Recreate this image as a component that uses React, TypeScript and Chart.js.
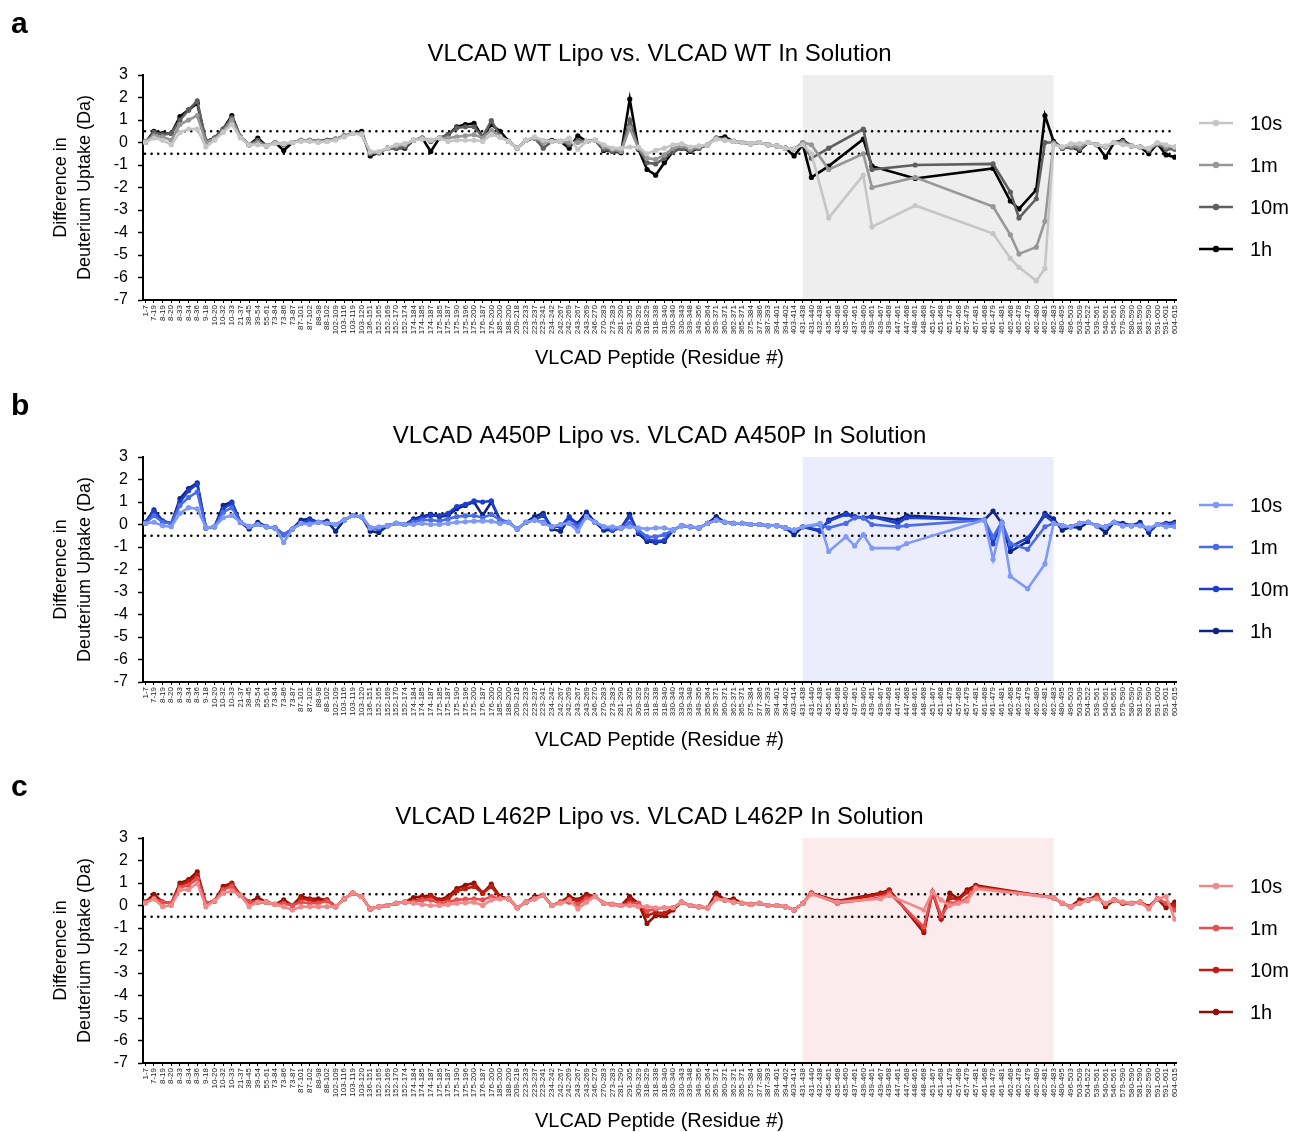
import React, { useEffect, useRef } from 'react';
import { Chart, registerables } from 'chart.js';

Chart.register(...registerables);

const N = null;
const FONT = 'Arial, "Liberation Sans", Helvetica, sans-serif';

const peptides = [
  '1-7', '7-19', '8-19', '8-20', '8-33', '8-34', '8-36', '9-18', '10-20', '10-32',
  '10-33', '21-37', '38-45', '39-54', '55-61', '73-84', '73-86', '73-87', '87-101', '87-102',
  '88-98', '88-102', '102-109', '103-116', '103-119', '103-120', '136-151', '152-165', '152-169', '152-170',
  '152-174', '174-184', '174-185', '174-187', '175-185', '175-187', '175-190', '175-196', '175-200', '176-187',
  '176-200', '185-200', '188-200', '209-218', '223-233', '223-237', '223-241', '234-242', '242-267', '242-269',
  '243-267', '243-269', '246-270', '270-283', '273-283', '281-290', '291-305', '309-329', '318-329', '318-338',
  '318-340', '330-340', '330-343', '339-348', '349-356', '356-364', '359-371', '360-371', '362-371', '365-371',
  '375-384', '377-386', '387-393', '394-401', '394-402', '403-414', '431-438', '431-440', '432-438', '435-461',
  '435-468', '435-460', '437-461', '439-460', '439-461', '439-467', '439-468', '447-461', '447-468', '448-461',
  '448-468', '451-467', '451-468', '451-479', '457-468', '457-479', '457-481', '461-468', '461-479', '461-481',
  '462-468', '462-478', '462-479', '462-480', '462-481', '462-483', '480-495', '496-503', '503-509', '504-522',
  '539-561', '540-561', '546-561', '579-590', '580-590', '581-590', '582-590', '591-600', '591-601', '604-615',
];

const timePoints = ['10s', '1m', '10m', '1h'];
const yTicks = [3, 2, 1, 0, -1, -2, -3, -4, -5, -6, -7];

// ---------- Panel a: VLCAD WT ----------
const wt10s = [
  0.0, 0.2, 0.1, -0.1, 0.45, 0.6, 0.6, -0.2, 0.1, 0.45,
  0.8, 0.2, -0.1, -0.1, -0.15, -0.05, -0.05, 0.0, 0.05, 0.05,
  0.0, 0.05, 0.1, 0.25, 0.4, 0.35, -0.4, -0.4, -0.25, -0.1,
  -0.05, 0.1, 0.15, 0.1, 0.2, 0.05, 0.1, 0.1, 0.1, 0.05, 0.35,
  0.25, 0.05, -0.25, 0.1, 0.25, 0.1, 0.05, 0.05, 0.2, -0.3,
  0.05, 0.1, -0.1, -0.25, -0.25, -0.2, -0.2, -0.5, -0.35, -0.25,
  -0.1, -0.05, -0.2, -0.15, -0.1, 0.15, 0.1, 0.05, 0.0, -0.05,
  0.0, -0.1, -0.15, -0.25, -0.3, -0.1, -0.5, N, -3.35, N,
  N, N, -1.45, -3.75, N, N, N, N, -2.8, N,
  N, N, N, N, N, N, N, -4.05, N, -5.15,
  -5.55, N, -6.15, -5.6, -0.1, -0.2, -0.05, -0.05, 0.0, -0.1,
  -0.15, 0.0, -0.1, -0.15, -0.2, -0.25, 0.0, -0.1, -0.2,
];
const wt1m = [
  0.05, 0.3, 0.25, 0.1, 0.8, 1.0, 1.2, 0.0, 0.15, 0.5,
  1.0, 0.25, -0.1, 0.0, -0.15, 0.0, -0.05, 0.0, 0.1, 0.1,
  0.05, 0.05, 0.15, 0.3, 0.4, 0.4, -0.45, -0.45, -0.25, -0.15,
  -0.1, 0.1, 0.2, 0.1, 0.2, 0.2, 0.25, 0.3, 0.35, 0.2, 0.55,
  0.25, 0.05, -0.25, 0.1, 0.2, 0.0, 0.05, 0.05, 0.0, 0.0,
  0.05, 0.1, -0.2, -0.3, -0.4, 0.65, -0.25, -0.7, -0.75, -0.55,
  -0.25, -0.15, -0.3, -0.2, -0.1, 0.2, 0.1, 0.05, 0.0, -0.05,
  0.0, -0.1, -0.15, -0.25, -0.3, 0.0, -0.1, N, -1.2, N,
  N, N, -0.5, -2.0, N, N, N, N, -1.55, N,
  N, N, N, N, N, N, N, -2.85, N, -4.1,
  -4.95, N, -4.65, -3.5, -0.05, -0.2, -0.15, -0.2, 0.0, -0.1,
  -0.2, 0.0, 0.0, -0.15, -0.2, -0.3, -0.05, -0.2, -0.2,
];
const wt10m = [
  0.0, 0.45, 0.35, 0.4, 1.0, 1.45, 1.85, 0.05, 0.2, 0.6,
  1.1, 0.25, -0.1, 0.1, -0.15, 0.0, -0.1, 0.0, 0.1, 0.1,
  0.05, 0.1, 0.15, 0.3, 0.4, 0.4, -0.5, -0.45, -0.25, -0.25,
  -0.2, 0.1, 0.2, 0.05, 0.2, 0.35, 0.65, 0.7, 0.7, 0.25, 0.97,
  0.3, 0.05, -0.25, 0.1, 0.2, -0.25, 0.05, 0.05, -0.1, 0.1,
  0.05, 0.1, -0.3, -0.4, -0.4, 1.0, -0.25, -0.9, -0.95, -0.7,
  -0.4, -0.25, -0.35, -0.25, -0.1, 0.2, 0.15, 0.05, 0.0, -0.05,
  0.0, -0.1, -0.15, -0.25, -0.3, 0.0, -0.7, N, -0.25, N,
  N, N, 0.6, -1.2, N, N, N, N, -1.0, N,
  N, N, N, N, N, N, N, -0.95, N, -2.2,
  -3.35, N, -2.5, 0.0, 0.0, -0.25, -0.2, -0.3, 0.0, -0.1,
  -0.2, 0.0, 0.05, -0.15, -0.2, -0.35, -0.05, -0.3, -0.3,
];
const wt1h = [
  0.0, 0.5, 0.4, 0.4, 1.15, 1.45, 1.75, 0.05, 0.2, 0.6,
  1.2, 0.25, -0.1, 0.2, -0.15, 0.0, -0.35, 0.0, 0.1, 0.1,
  0.05, 0.1, 0.15, 0.3, 0.4, 0.5, -0.6, -0.45, -0.25, -0.25,
  -0.25, 0.1, 0.2, -0.4, 0.2, 0.35, 0.7, 0.8, 0.85, 0.25, 0.8,
  0.5, 0.05, -0.25, 0.1, 0.2, 0.05, 0.1, 0.05, -0.25, 0.3,
  0.05, 0.1, -0.35, -0.4, -0.45, 1.93, -0.3, -1.2, -1.45, -0.9,
  -0.4, -0.25, -0.4, -0.25, -0.1, 0.2, 0.25, 0.05, 0.0, -0.05,
  0.0, -0.1, -0.15, -0.25, -0.6, -0.1, -1.55, N, -1.05, N,
  N, N, 0.15, -1.05, N, N, N, N, -1.6, N,
  N, N, N, N, N, N, N, -1.15, N, -2.6,
  -2.95, N, -2.1, 1.2, 0.05, -0.25, -0.2, -0.35, 0.0, -0.1,
  -0.65, 0.0, 0.1, -0.15, -0.2, -0.5, -0.05, -0.55, -0.65,
];

// ---------- Panel b: VLCAD A450P ----------
const a450p10s = [
  0.05, 0.1, -0.05, -0.1, 0.5, 0.75, 0.7, -0.15, -0.1, 0.3,
  0.4, 0.1, -0.1, 0.0, -0.1, -0.15, -0.8, -0.2, 0.05, 0.0,
  0.1, 0.05, 0.0, 0.2, 0.4, 0.35, -0.15, -0.1, -0.05, 0.05,
  0.0, 0.0, 0.05, 0.0, 0.0, 0.05, 0.1, 0.12, 0.15, 0.15, 0.15,
  0.05, 0.1, -0.2, 0.1, 0.2, 0.05, -0.1, 0.0, 0.05, -0.3,
  0.35, 0.1, -0.1, -0.1, -0.15, -0.1, -0.15, -0.2, -0.15, -0.15,
  -0.25, -0.05, -0.1, -0.15, 0.05, 0.2, 0.1, 0.05, 0.05, 0.0,
  0.0, -0.05, -0.05, -0.15, -0.25, -0.1, N, 0.05, -1.2, N,
  -0.55, -0.95, -0.45, -1.05, N, N, -1.05, -0.85, N, N,
  N, N, N, N, N, N, 0.2, -1.55, 0.05, -2.3,
  N, -2.85, N, -1.75, 0.05, -0.05, -0.1, 0.05, 0.1, -0.05,
  -0.1, 0.1, -0.05, -0.05, -0.05, -0.15, 0.0, -0.1, -0.1,
];
const a450p1m = [
  0.05, 0.4, 0.1, 0.05, 0.85, 1.2, 1.45, -0.15, -0.1, 0.55,
  0.75, 0.1, -0.1, 0.0, -0.1, -0.15, -0.45, -0.2, 0.05, 0.05,
  0.1, 0.05, 0.0, 0.2, 0.4, 0.35, -0.15, -0.15, -0.05, 0.05,
  0.0, 0.1, 0.2, 0.2, 0.15, 0.25, 0.35, 0.38, 0.4, 0.3, 0.45,
  0.2, 0.1, -0.2, 0.1, 0.2, 0.1, -0.1, 0.0, 0.1, -0.1,
  0.35, 0.1, -0.1, -0.2, -0.15, 0.05, -0.25, -0.55, -0.55, -0.45,
  -0.25, -0.05, -0.1, -0.15, 0.05, 0.2, 0.1, 0.05, 0.05, 0.0,
  0.0, -0.05, -0.05, -0.15, -0.25, -0.1, N, 0.0, -0.15, N,
  0.05, 0.3, 0.3, 0.0, N, N, -0.1, -0.05, N, N,
  N, N, N, N, N, N, 0.2, -0.55, 0.1, -0.85,
  N, -1.1, N, -0.1, 0.05, -0.05, -0.1, 0.05, 0.1, -0.05,
  -0.1, 0.1, -0.05, -0.05, -0.05, -0.2, 0.0, 0.0, 0.0,
];
const a450p10m = [
  0.05, 0.6, 0.15, 0.05, 1.0, 1.5, 1.8, -0.15, -0.1, 0.7,
  0.95, 0.1, -0.1, 0.0, -0.1, -0.15, -0.45, -0.2, 0.05, 0.2,
  0.1, 0.05, 0.0, 0.2, 0.4, 0.35, -0.15, -0.2, -0.05, 0.05,
  0.0, 0.2, 0.3, 0.4, 0.4, 0.5, 0.8, 0.9, 1.05, 1.0, 1.05,
  0.2, 0.1, -0.2, 0.1, 0.2, 0.4, -0.1, -0.1, 0.35, 0.0,
  0.35, 0.1, -0.15, -0.25, -0.15, 0.35, -0.35, -0.65, -0.75, -0.7,
  -0.25, -0.05, -0.1, -0.15, 0.05, 0.2, 0.1, 0.05, 0.05, 0.0,
  0.0, -0.05, -0.05, -0.15, -0.25, -0.1, N, -0.25, 0.15, N,
  0.45, 0.3, 0.3, 0.35, N, N, 0.05, 0.3, N, N,
  N, N, N, N, N, N, 0.2, -0.85, 0.1, -1.0,
  N, -0.6, N, 0.4, 0.1, -0.05, -0.1, 0.05, 0.1, -0.05,
  -0.1, 0.1, -0.05, -0.05, 0.0, -0.25, 0.0, 0.0, 0.05,
];
const a450p1h = [
  0.1, 0.65, 0.15, 0.05, 1.15, 1.6, 1.85, -0.15, -0.1, 0.85,
  1.0, 0.1, -0.2, 0.1, -0.1, -0.15, -0.45, -0.2, 0.2, 0.25,
  0.1, 0.15, -0.3, 0.2, 0.4, 0.35, -0.3, -0.35, -0.05, 0.05,
  0.0, 0.25, 0.35, 0.45, 0.35, 0.4, 0.7, 0.85, 1.0, 0.4, 1.0,
  0.2, 0.1, -0.2, 0.1, 0.35, 0.5, -0.2, -0.3, 0.25, 0.05,
  0.55, 0.1, -0.25, -0.25, -0.15, 0.45, -0.4, -0.75, -0.8, -0.75,
  -0.25, -0.05, -0.1, -0.15, 0.05, 0.35, 0.1, 0.05, 0.05, 0.0,
  0.0, -0.05, -0.05, -0.15, -0.45, -0.1, N, -0.3, 0.2, N,
  0.5, 0.35, 0.3, 0.35, N, N, 0.2, 0.4, N, N,
  N, N, N, N, N, N, 0.2, 0.6, 0.05, -1.2,
  N, -0.75, N, 0.5, 0.25, -0.25, -0.1, -0.15, 0.1, -0.05,
  -0.35, 0.1, 0.05, -0.05, 0.1, -0.35, 0.0, 0.05, 0.1,
];

// ---------- Panel c: VLCAD L462P ----------
const l462p10s = [
  0.1, 0.3, -0.05, 0.0, 0.7, 0.7, 1.0, -0.05, 0.2, 0.55,
  0.65, 0.45, -0.05, 0.15, 0.15, 0.05, -0.05, -0.2, -0.05, -0.05,
  -0.05, -0.05, -0.05, 0.3, 0.55, 0.4, -0.15, -0.05, 0.0, 0.1,
  0.15, 0.1, 0.05, 0.0, 0.0, 0.05, 0.1, 0.12, 0.15, 0.0, 0.25,
  0.3, 0.3, -0.1, 0.15, 0.3, 0.45, 0.0, 0.1, 0.25, -0.15,
  0.15, 0.4, 0.1, 0.05, 0.0, 0.0, -0.05, -0.05, -0.1, -0.1,
  -0.1, 0.15, 0.0, -0.05, -0.1, 0.3, 0.25, 0.15, 0.1, 0.05,
  0.1, 0.0, 0.0, -0.05, -0.2, 0.1, 0.5, N, N, 0.15,
  N, N, N, N, 0.3, 0.45, N, N, N, -0.2,
  0.6, 0.25, 0.0, 0.1, 0.2, 0.75, N, N, N, N,
  N, N, N, N, 0.35, 0.1, -0.05, 0.1, 0.25, 0.3,
  0.1, 0.25, 0.15, 0.1, 0.15, -0.15, 0.3, 0.4, -0.6,
];
const l462p1m = [
  0.15, 0.3, 0.15, 0.1, 0.8, 0.9, 1.2, 0.1, 0.2, 0.7,
  0.85, 0.45, 0.15, 0.15, 0.15, 0.05, 0.1, 0.0, 0.15, 0.1,
  0.1, 0.2, -0.05, 0.3, 0.55, 0.4, -0.15, -0.05, 0.0, 0.1,
  0.15, 0.15, 0.25, 0.25, 0.1, 0.15, 0.25, 0.28, 0.3, 0.25, 0.4,
  0.3, 0.3, -0.1, 0.15, 0.3, 0.45, 0.0, 0.15, 0.15, 0.05,
  0.3, 0.4, 0.1, 0.05, 0.0, 0.1, 0.1, -0.25, -0.15, -0.1,
  -0.1, 0.15, 0.0, -0.05, -0.1, 0.3, 0.25, 0.15, 0.1, 0.05,
  0.1, 0.0, 0.0, -0.05, -0.2, 0.1, 0.55, N, N, 0.1,
  N, N, N, N, 0.35, 0.55, N, N, N, -0.95,
  0.6, -0.45, 0.1, 0.15, 0.3, 0.8, N, N, N, N,
  N, N, N, N, 0.35, 0.1, -0.05, 0.1, 0.25, 0.35,
  0.1, 0.25, 0.15, 0.1, 0.15, -0.1, 0.3, 0.1, -0.2,
];
const l462p10m = [
  0.15, 0.35, 0.15, 0.1, 0.9, 1.05, 1.35, 0.1, 0.2, 0.75,
  0.95, 0.45, 0.15, 0.15, 0.15, 0.05, 0.1, 0.0, 0.3, 0.25,
  0.15, 0.25, -0.05, 0.3, 0.55, 0.4, -0.15, -0.05, 0.0, 0.1,
  0.15, 0.2, 0.3, 0.4, 0.2, 0.3, 0.65, 0.75, 0.85, 0.55, 0.85,
  0.35, 0.3, -0.1, 0.15, 0.3, 0.45, 0.0, 0.15, 0.3, 0.2,
  0.4, 0.4, 0.1, 0.05, 0.0, 0.25, 0.1, -0.45, -0.3, -0.35,
  -0.1, 0.15, 0.0, -0.05, -0.1, 0.35, 0.25, 0.2, 0.1, 0.05,
  0.1, 0.0, 0.0, -0.05, -0.2, 0.1, 0.55, N, N, 0.15,
  N, N, N, N, 0.5, 0.65, N, N, N, -1.1,
  0.6, -0.55, 0.35, 0.25, 0.6, 0.85, N, N, N, N,
  N, N, N, N, 0.35, 0.1, -0.05, 0.15, 0.25, 0.4,
  0.05, 0.25, 0.1, 0.1, 0.15, -0.05, 0.3, 0.1, 0.0,
];
const l462p1h = [
  0.15, 0.5, 0.15, 0.1, 1.0, 1.15, 1.5, 0.1, 0.2, 0.85,
  1.0, 0.45, 0.15, 0.35, 0.15, 0.05, 0.25, 0.0, 0.4, 0.3,
  0.3, 0.25, -0.05, 0.3, 0.55, 0.4, -0.15, -0.05, 0.0, 0.1,
  0.15, 0.35, 0.4, 0.45, 0.25, 0.4, 0.75, 0.9, 1.0, 0.55, 0.95,
  0.4, 0.3, -0.1, 0.15, 0.4, 0.45, 0.0, 0.15, 0.4, 0.25,
  0.5, 0.4, 0.1, 0.05, 0.0, 0.4, 0.1, -0.8, -0.45, -0.45,
  -0.2, 0.15, 0.0, -0.05, -0.1, 0.55, 0.25, 0.3, 0.1, 0.05,
  0.1, 0.0, 0.0, -0.05, -0.2, 0.1, 0.55, N, N, 0.2,
  N, N, N, N, 0.55, 0.7, N, N, N, -1.2,
  0.6, -0.6, 0.55, 0.3, 0.7, 0.9, N, N, N, N,
  N, N, N, N, 0.35, 0.1, -0.05, 0.25, 0.25, 0.45,
  -0.05, 0.25, 0.1, 0.1, 0.15, -0.05, 0.3, -0.1, 0.15,
];

// shaded (membrane-binding) peptide range
const shadeFrom = '431-438';
const shadeTo = '462-483';

type PanelProps = {
  letter: string;
  title: string;
  series: (number | null)[][];
  colors: string[];
  shade: string;
  top: number;
  height: number;
};

function Panel({ letter, title, series, colors, shade, top, height }: PanelProps) {
  const ref = useRef<HTMLCanvasElement>(null);

  useEffect(() => {
    const canvas = ref.current;
    if (!canvas) return;

    const deco = {
      id: 'deco',
      beforeDraw(chart: any) {
        const { ctx, chartArea, scales } = chart;
        const x0 = scales.x.getPixelForValue(peptides.indexOf(shadeFrom));
        const x1 = scales.x.getPixelForValue(peptides.indexOf(shadeTo));
        ctx.save();
        ctx.fillStyle = shade;
        ctx.fillRect(x0, chartArea.top, x1 - x0, chartArea.bottom - chartArea.top);
        ctx.restore();
      },
      beforeDatasetsDraw(chart: any) {
        const { ctx, chartArea, scales } = chart;
        ctx.save();
        ctx.strokeStyle = '#000';
        ctx.lineWidth = 2.6;
        ctx.lineCap = 'round';
        ctx.setLineDash([0.01, 6.6]);
        [0.5, -0.5].forEach((v) => {
          const y = scales.y.getPixelForValue(v);
          ctx.beginPath();
          ctx.moveTo(chartArea.left + 2, y);
          ctx.lineTo(chartArea.right, y);
          ctx.stroke();
        });
        ctx.restore();
      },
      afterDraw(chart: any) {
        const { ctx, chartArea } = chart;
        ctx.save();
        ctx.fillStyle = '#000';
        ctx.textBaseline = 'middle';
        ctx.font = `24px ${FONT}`;
        ctx.textAlign = 'center';
        ctx.fillText(title, (chartArea.left + chartArea.right) / 2, 54);
        ctx.font = `bold 30px ${FONT}`;
        ctx.textAlign = 'left';
        ctx.fillText(letter, 11, 25);
        timePoints.forEach((t, k) => {
          const y = 123 + k * 42;
          ctx.strokeStyle = colors[k];
          ctx.fillStyle = colors[k];
          ctx.lineWidth = 2.6;
          ctx.setLineDash([]);
          ctx.beginPath();
          ctx.moveTo(1199, y);
          ctx.lineTo(1233, y);
          ctx.stroke();
          ctx.beginPath();
          ctx.arc(1216, y, 3.2, 0, Math.PI * 2);
          ctx.fill();
          ctx.fillStyle = '#000';
          ctx.font = `20px ${FONT}`;
          ctx.textAlign = 'left';
          ctx.fillText(t, 1250, y + 1);
        });
        ctx.restore();
      },
    };

    const datasets = series.map((arr, k) => ({
      label: timePoints[k],
      data: arr.map((v, i) => ({ x: i, y: v })),
      borderColor: colors[k],
      backgroundColor: colors[k],
      pointBackgroundColor: colors[k],
      pointBorderColor: colors[k],
      pointRadius: 2.6,
      pointBorderWidth: 0,
      borderWidth: 2.6,
      tension: 0,
      spanGaps: true,
    }));

    const chart = new Chart(canvas, {
      type: 'line',
      data: { datasets },
      plugins: [deco],
      options: {
        responsive: false,
        animation: false,
        devicePixelRatio: 1,
        events: [],
        layout: { padding: { left: 0, right: 115, top: 75, bottom: height - 370 } },
        plugins: {
          legend: { display: false },
          title: { display: false },
          tooltip: { enabled: false },
        },
        scales: {
          x: {
            type: 'linear',
            min: -0.27,
            max: peptides.length - 1 + 0.15,
            afterFit: (s: any) => {
              s.height = 70;
            },
            afterBuildTicks: (s: any) => {
              s.ticks = peptides.map((_, i) => ({ value: i }));
            },
            ticks: {
              autoSkip: false,
              minRotation: 90,
              maxRotation: 90,
              padding: 2,
              color: '#222',
              font: { size: 8, family: FONT },
              callback: (v: any) => peptides[v as number] ?? '',
            },
            grid: {
              display: true,
              drawOnChartArea: false,
              drawTicks: true,
              tickLength: 3,
              tickWidth: 1,
              tickColor: '#000',
            },
            border: { display: true, color: '#000', width: 2 },
            title: {
              display: true,
              text: 'VLCAD Peptide (Residue #)',
              color: '#000',
              font: { size: 20, family: FONT, lineHeight: 1.2 },
              padding: { top: 0, bottom: 0 },
            },
          },
          y: {
            type: 'linear',
            min: -7,
            max: 3,
            afterFit: (s: any) => {
              s.width = 143;
            },
            afterBuildTicks: (s: any) => {
              s.ticks = yTicks.map((v) => ({ value: v }));
            },
            ticks: {
              padding: 10,
              color: '#000',
              font: { size: 16, family: FONT },
              callback: (v: any) => String(v),
            },
            grid: {
              display: true,
              drawOnChartArea: false,
              drawTicks: true,
              tickLength: 5,
              tickWidth: 1.5,
              tickColor: '#000',
            },
            border: { display: true, color: '#000', width: 2 },
            title: {
              display: true,
              text: ['Difference in', 'Deuterium Uptake (Da)'],
              color: '#000',
              font: { size: 18, family: FONT, lineHeight: 1.28 },
              padding: { top: 50, bottom: 0 },
            },
          },
        },
      } as any,
    });

    return () => chart.destroy();
  }, []);

  return (
    <canvas
      ref={ref}
      width={1291}
      height={height}
      style={{ position: 'absolute', left: 0, top, width: 1291, height, display: 'block' }}
    />
  );
}

export default function App() {
  return (
    <div
      style={{
        position: 'fixed',
        left: 0,
        top: 0,
        width: 1291,
        height: 1132,
        overflow: 'hidden',
        background: '#fff',
      }}
    >
      <Panel
        letter="a"
        title="VLCAD WT Lipo vs. VLCAD WT In Solution"
        series={[wt10s, wt1m, wt10m, wt1h]}
        colors={['#c6c6c6', '#979797', '#5f5f5f', '#000000']}
        shade="#eeeeee"
        top={0}
        height={382}
      />
      <Panel
        letter="b"
        title="VLCAD A450P Lipo vs. VLCAD A450P In Solution"
        series={[a450p10s, a450p1m, a450p10m, a450p1h]}
        colors={['#7f99f6', '#4b6ce8', '#1d3fcc', '#0d2585']}
        shade="#ecedfc"
        top={382}
        height={381}
      />
      <Panel
        letter="c"
        title="VLCAD L462P Lipo vs. VLCAD L462P In Solution"
        series={[l462p10s, l462p1m, l462p10m, l462p1h]}
        colors={['#f08a8a', '#e54f4f', '#c11c0e', '#8e1006']}
        shade="#fcebec"
        top={763}
        height={370}
      />
    </div>
  );
}
